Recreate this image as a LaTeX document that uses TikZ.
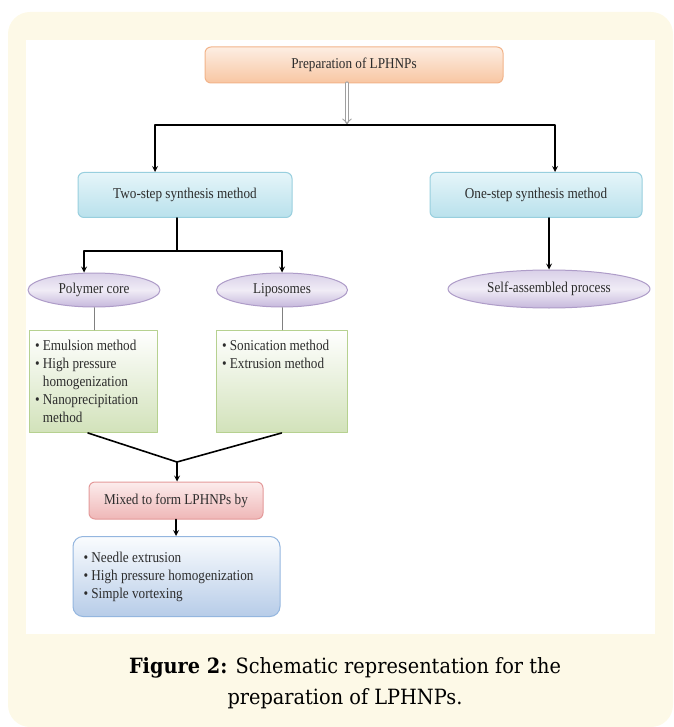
\documentclass[tikz,border=0pt]{standalone}
\usepackage{fontspec}
\setmainfont{Liberation Serif}
\newfontfamily\diafont[FakeStretch=0.88]{Liberation Serif}
\newfontfamily\capfont[FakeStretch=0.92]{DejaVu Serif}
\usetikzlibrary{shapes.geometric,arrows.meta}

\definecolor{cream}{HTML}{FDF9E7}
\definecolor{txt}{HTML}{2C2C2C}
\definecolor{orgline}{HTML}{F2B48A}
\definecolor{orgtop}{HTML}{FDEEE3}
\definecolor{orgbot}{HTML}{F8C6A2}
\definecolor{cyaline}{HTML}{98CFDE}
\definecolor{cyatop}{HTML}{E6F5F9}
\definecolor{cyabot}{HTML}{B9E1EC}
\definecolor{lavline}{HTML}{AE9CC8}
\definecolor{lavtop}{HTML}{D9D0E8}
\definecolor{lavmid}{HTML}{F0ECF6}
\definecolor{lavbot}{HTML}{C6B8DC}
\definecolor{grnline}{HTML}{B6D190}
\definecolor{grnbot}{HTML}{D2E2BA}
\definecolor{pnkline}{HTML}{E49A9A}
\definecolor{pnktop}{HTML}{FCECEC}
\definecolor{pnkbot}{HTML}{EFB7B7}
\definecolor{bluline}{HTML}{94B6DF}
\definecolor{blutop}{HTML}{FAFCFE}
\definecolor{blubot}{HTML}{B7CCE8}

\newcommand\itm{\textbullet\ }
\newcommand\ind{\phantom{\textbullet\ }}

\tikzset{
  rbox/.style n args={3}{draw=#1, top color=#2, bottom color=#3, rounded corners=6pt,
    line width=1pt, text=txt, align=center},
  oval/.style={ellipse, draw=lavline, line width=1pt, top color=lavtop, bottom color=lavbot,
    middle color=lavmid, text=txt, inner sep=0pt},
  gbox/.style={draw=grnline, line width=1pt, top color=white, bottom color=grnbot,
    anchor=north, inner xsep=6pt, inner ysep=10pt, text=txt},
  link/.style={line width=1.6pt},
  hollow/.style={draw=gray!75, double=white, double distance=2.4pt, line width=0.9pt,
    -{Implies[length=5pt]}}
}

\begin{document}
\begin{tikzpicture}[x=1pt, y=-1pt, line join=round, line cap=round, >=stealth,
  font=\diafont\fontsize{15}{18}\selectfont]
  \useasboundingbox (0,0) rectangle (673,727);
  \fill[cream, rounded corners=22pt] (8,12) rectangle (673,727);
  \fill[white] (26,40) rectangle (655,634);

  \node[rbox={orgline}{orgtop}{orgbot}, minimum width=298, minimum height=36] (prep) at (354,65)
    {Preparation of LPHNPs};
  \node[rbox={cyaline}{cyatop}{cyabot}, minimum width=214, minimum height=45] (two) at (185,195)
    {Two-step synthesis method};
  \node[rbox={cyaline}{cyatop}{cyabot}, minimum width=212, minimum height=45] (one) at (536,195)
    {One-step synthesis method};
  \node[oval, minimum width=132, minimum height=34] (pc) at (94,290) {Polymer core};
  \node[oval, minimum width=131, minimum height=34] (lipo) at (282,290) {Liposomes};
  \node[oval, minimum width=202, minimum height=38] (self) at (549,289) {Self-assembled process};
  \node[gbox] (gl) at (93,330) {\parbox[t][82pt][t]{116pt}{\raggedright
    \itm Emulsion method\\ \itm High pressure\\ \ind homogenization\\
    \itm Nanoprecipitation\\ \ind method}};
  \node[gbox] (gr) at (281.5,330) {\parbox[t][82pt][t]{119pt}{\raggedright
    \itm Sonication method\\ \itm Extrusion method}};
  \node[rbox={pnkline}{pnktop}{pnkbot}, minimum width=174, minimum height=37] (mix) at (176,500.5)
    {Mixed to form LPHNPs by};
  \node[rbox={bluline}{blutop}{blubot}, rounded corners=10pt, minimum width=207, minimum height=80,
    text width=186, align=flush left] (res) at (176.5,576.5)
    {\itm Needle extrusion\\ \itm High pressure homogenization\\ \itm Simple vortexing};

  \path (347,125) coordinate (split)
    (177,251) coordinate (fork)
    (177,462) coordinate (mrg);
  \draw[hollow] (prep.south -| split) -- (split);
  \draw[link,<->] ([xshift=-30pt]two.north) |- (split) -| ([xshift=19pt]one.north);
  \draw[link] (two.south -| fork) -- (fork);
  \draw[link,<->] ([xshift=-10pt]pc.north) |- (fork) -| (lipo.north);
  \draw[link,->] (self.north |- one.south) -- (self.north);
  \draw[gray, thin] (pc.south) -- (pc.south |- gl.north);
  \draw[gray, thin] (lipo.south) -- (lipo.south |- gr.north);
  \draw[link] ([xshift=-5pt]gl.south) -- (mrg) -- (gr.south);
  \draw[link,->] (mrg) -- (mrg |- mix.north);
  \draw[link,->] (mix.south) -- (mix.south |- res.north);

  \node[font=\capfont\fontsize{21}{31}\selectfont, align=center, text=black] (cap) at (345,683)
    {\textbf{Figure 2:} Schematic representation for the\\preparation of LPHNPs.};
\end{tikzpicture}
\end{document}
